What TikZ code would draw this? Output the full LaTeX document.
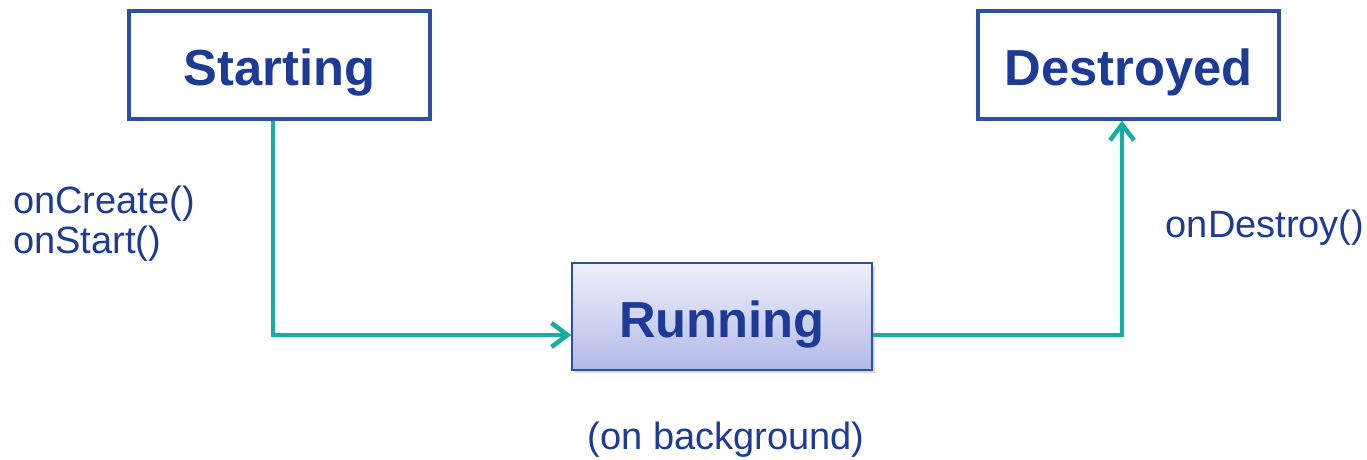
\documentclass[tikz,border=0pt]{standalone}
\usepackage{fontspec}
\setmainfont{Liberation Sans}
\usetikzlibrary{arrows.meta,shadows}
\definecolor{boxblue}{HTML}{2C4EA6}
\definecolor{textblue}{HTML}{1C3A96}
\definecolor{flowteal}{HTML}{17ADA3}
\definecolor{fadetop}{HTML}{EEF0FB}
\definecolor{fadebottom}{HTML}{B3BAE6}
\tikzset{
  state/.style={draw=boxblue, line width=2.4pt, fill=white, minimum width=225.75pt,
    minimum height=81pt, inner sep=0pt, text=textblue, text height=30pt, text depth=0pt,
    font=\fontsize{38}{40}\selectfont\bfseries},
  active/.style={draw=boxblue, line width=1.1pt, minimum width=225pt, minimum height=80.25pt,
    inner sep=0pt, text=textblue, top color=fadetop, bottom color=fadebottom,
    text height=32pt, text depth=0pt,
    font=\fontsize{38}{40}\selectfont\bfseries,
    drop shadow={opacity=0.3, shadow xshift=2pt, shadow yshift=-2.5pt}},
  label/.style={text=textblue, inner sep=0pt, font=\fontsize{28.5}{30}\selectfont},
  flow/.style={draw=flowteal, line width=3pt,
    -{Straight Barb[length=12pt,width=18pt,line width=3.4pt]}}
}
\begin{document}
\begin{tikzpicture}[x=0.75pt, y=-0.75pt]
  \useasboundingbox (0,0) rectangle (1367,460);
  \node[state] (start) at (279.5,65) {Starting};
  \node[state] (dest) at (1128.5,65) {Destroyed};
  \node[active] (run) at (722,316.5) {Running};
  \coordinate (bendA) at (273,335);
  \coordinate (bendB) at (1122,335);
  \draw[flow] (start.south -| bendA) -- (bendA) -- (run.west |- bendA);
  \draw[flow] (run.east |- bendB) -- (bendB) -- (dest.south -| bendB);
  \node[label, anchor=north west, align=left] (cbs) at (13,186) {onCreate()\\onStart()};
  \node[label] (ondest) at (1265,228) {onDestroy()};
  \node[label] (bg) at (726,440) {(on background)};
\end{tikzpicture}
\end{document}
